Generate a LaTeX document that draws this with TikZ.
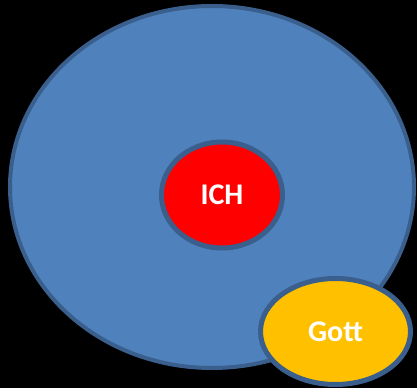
\documentclass[tikz,border=0pt]{standalone}
\usepackage{fontspec}
\setmainfont{Carlito}
\usetikzlibrary{shapes.geometric}
\definecolor{ringblue}{HTML}{4F81BD}
\definecolor{edgeblue}{HTML}{3A5F8C}
\definecolor{ichred}{HTML}{FF0000}
\definecolor{gottgold}{HTML}{FFC000}
\tikzset{
  blob/.style={ellipse, draw=edgeblue, inner sep=0pt, outer sep=0pt,
    text=white, font=\bfseries\fontsize{30}{34}\selectfont},
}
\begin{document}
\begin{tikzpicture}[x=1pt,y=1pt]
  \fill[black] (0,0) rectangle (417,388);
  \useasboundingbox (0,0) rectangle (417,388);
  % outer world
  \node[blob, fill=ringblue, line width=4pt, minimum width=404pt, minimum height=362pt] (world) at (212,201) {};
  % self in the centre
  \node[blob, fill=ichred, line width=5pt, minimum width=121pt, minimum height=106pt] (ich) at (222,193) {ICH};
  % God at the lower right edge
  \node[blob, fill=gottgold, line width=5pt, minimum width=150pt, minimum height=106pt] (gott) at (335.5,56.5) {Gott};
\end{tikzpicture}
\end{document}
